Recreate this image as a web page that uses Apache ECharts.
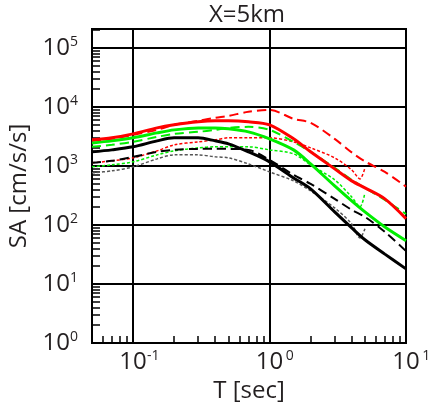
<!DOCTYPE html>
<html><head><meta charset="utf-8">
<script src="https://cdn.jsdelivr.net/npm/echarts@6/dist/echarts.min.js"></script>
<style>html,body{margin:0;padding:0;background:#fff}#c{width:430px;height:402px}</style>
</head><body><div id="c"></div>
<script>
// Periods (sec)
const periods = [0.05, 0.07, 0.1, 0.15, 0.2, 0.3, 0.4, 0.5, 0.7, 1, 1.5, 2, 3, 4, 5, 7, 10];
const periodsDotted = [0.05, 0.07, 0.1, 0.15, 0.2, 0.3, 0.4, 0.5, 0.7, 1, 1.5, 2, 3, 4, 4.6, 5];

// SA values (cm/s/s)
const redSolid    = [2760, 2985, 3480, 4400, 4950, 5570, 5790, 5790, 5570, 4950, 2870, 1730, 890, 557, 424, 276, 128];
const redDashed   = [2650, 2870, 3350, 4070, 4950, 5790, 6510, 7040, 8230, 8890, 6260, 5360, 2870, 1690, 1190, 790, 445];
const redDotted   = [1125, 1216, 1367, 1795, 2270, 2550, 2760, 2985, 2985, 2985, 2550, 2020, 1367, 855, 602, 925];
const greenSolid  = [2450, 2650, 2985, 3620, 4070, 4400, 4400, 4240, 3770, 2870, 1865, 1081, 458, 255, 166, 92, 54];
const greenDashed = [2100, 2270, 2550, 3100, 3480, 3770, 4070, 4400, 4580, 4070, 2550, 1730, 925, 580, 424, 265, 153];
const greenDotted = [962, 1040, 1170, 1536, 1795, 2020, 2100, 2100, 2100, 1865, 1597, 1040, 580, 298, 202, 349];
const blackSolid  = [1727, 1866, 2100, 2653, 2985, 2985, 2653, 2360, 1727, 1170, 626, 408, 166, 89, 56, 32, 18];
const blackDashed = [1125, 1216, 1421, 1727, 1866, 1940, 1940, 1940, 1866, 1264, 703, 495, 276, 180, 137, 76, 36];
const grayDotted  = [761, 823, 962, 1315, 1536, 1536, 1421, 1367, 1080, 791, 557, 377, 194, 104, 60, 86];

// Axis ranges and ticks
const xRange = [0.05, 10];
const yRange = [1, 2.08e5];
const mantissas = [2, 3, 4, 5, 6, 7, 8, 9];
function minorTicks(lo, hi, range) {
  const out = [];
  for (let e = lo; e <= hi; e++) for (const m of mantissas) {
    const v = +(m * Math.pow(10, e)).toPrecision(3);
    if (v > range[0] && v < range[1]) out.push(v);
  }
  return out;
}
const xMinor = minorTicks(-2, 0, xRange);
const yMinor = minorTicks(0, 5, yRange);

const FONT = "'Open Sans', sans-serif";
const TXT = '#231f20';

function powLabel(v, pad) {
  const e = Math.log10(v);
  if (Math.abs(e - Math.round(e)) > 1e-6) return '';
  const ex = Math.round(e);
  return (pad ? '{p|}' : '') + '{b|10}{s|' + (ex < 0 ? '-' + (-ex) : ex) + '}';
}
const richX = {
  p: {width: 13},
  b: {fontSize: 24, fontFamily: FONT, color: TXT, lineHeight: 26},
  s: {fontSize: 14, fontFamily: FONT, color: TXT, lineHeight: 14, verticalAlign: 'top', width: 13}
};
const richY = {
  b: {fontSize: 24, fontFamily: FONT, color: TXT, lineHeight: 26},
  s: {fontSize: 14, fontFamily: FONT, color: TXT, lineHeight: 14, verticalAlign: 'top'}
};

function mk(name, xs, ys, color, width, type, z) {
  return {
    name, type: 'line', data: xs.map((t, i) => [t, ys[i]]),
    showSymbol: false, smooth: 0.3, z: z, silent: true,
    lineStyle: {color, width, type}
  };
}
const RED = '#ff0000', GREEN = '#00ee00', BLACK = '#000000', GRAY = '#555555';
const DASH = [9, 5], DOT = [3, 2];

const chart = echarts.init(document.getElementById('c'), null, {renderer: 'canvas'});
chart.setOption({
  animation: false,
  backgroundColor: '#fff',
  graphic: [{
    type: 'text', x: 247, y: 15,
    style: {text: 'X=5km', font: "24px 'Open Sans', sans-serif", fill: TXT, align: 'center', verticalAlign: 'middle'}
  }],
  grid: {left: 92, right: 24, top: 29, bottom: 59, show: true, borderColor: '#000', borderWidth: 2,
         containLabel: false, outerBoundsMode: 'none'},
  xAxis: [{
    type: 'log', logBase: 10, min: xRange[0], max: xRange[1],
    axisLine: {lineStyle: {color: '#000', width: 2}},
    axisTick: {show: false},
    splitLine: {show: true, lineStyle: {color: '#000', width: 2}},
    axisLabel: {formatter: v => powLabel(v, true), rich: richX, margin: 6, showMinLabel: true, showMaxLabel: true, hideOverlap: false},
    name: 'T [sec]', nameLocation: 'middle', nameGap: 34,
    nameTextStyle: {fontSize: 24, fontFamily: FONT, color: TXT}
  }, {
    type: 'log', logBase: 10, min: xRange[0], max: xRange[1], position: 'bottom',
    axisLine: {show: false}, axisLabel: {show: false}, splitLine: {show: false},
    axisTick: {show: true, inside: true, length: 7, customValues: xMinor, lineStyle: {color: '#000', width: 1.5}}
  }],
  yAxis: [{
    type: 'log', logBase: 10, min: yRange[0], max: yRange[1],
    axisLine: {lineStyle: {color: '#000', width: 2}},
    axisTick: {show: false},
    splitLine: {show: true, lineStyle: {color: '#000', width: 2}},
    axisLabel: {formatter: v => powLabel(v, false), rich: richY, margin: 14, showMinLabel: true, showMaxLabel: true, hideOverlap: false},
    name: 'SA [cm/s/s]', nameLocation: 'middle', nameGap: 55,
    nameTextStyle: {fontSize: 24, fontFamily: FONT, color: TXT}
  }, {
    type: 'log', logBase: 10, min: yRange[0], max: yRange[1], position: 'left',
    axisLine: {show: false}, axisLabel: {show: false}, splitLine: {show: false},
    axisTick: {show: true, inside: true, length: 8, customValues: yMinor, lineStyle: {color: '#000', width: 1.5}}
  }],
  series: [
    mk('grayDotted', periodsDotted, grayDotted, GRAY, 1.5, DOT, 2),
    mk('greenDotted', periodsDotted, greenDotted, GREEN, 1.5, DOT, 2),
    mk('redDotted', periodsDotted, redDotted, RED, 1.5, DOT, 2),
    mk('blackDashed', periods, blackDashed, BLACK, 2, DASH, 3),
    mk('greenDashed', periods, greenDashed, GREEN, 2, DASH, 3),
    mk('redDashed', periods, redDashed, RED, 2, DASH, 3),
    mk('blackSolid', periods, blackSolid, BLACK, 3, 'solid', 4),
    mk('greenSolid', periods, greenSolid, GREEN, 3, 'solid', 4),
    mk('redSolid', periods, redSolid, RED, 3, 'solid', 4)
  ]
});
</script>
</body></html>
